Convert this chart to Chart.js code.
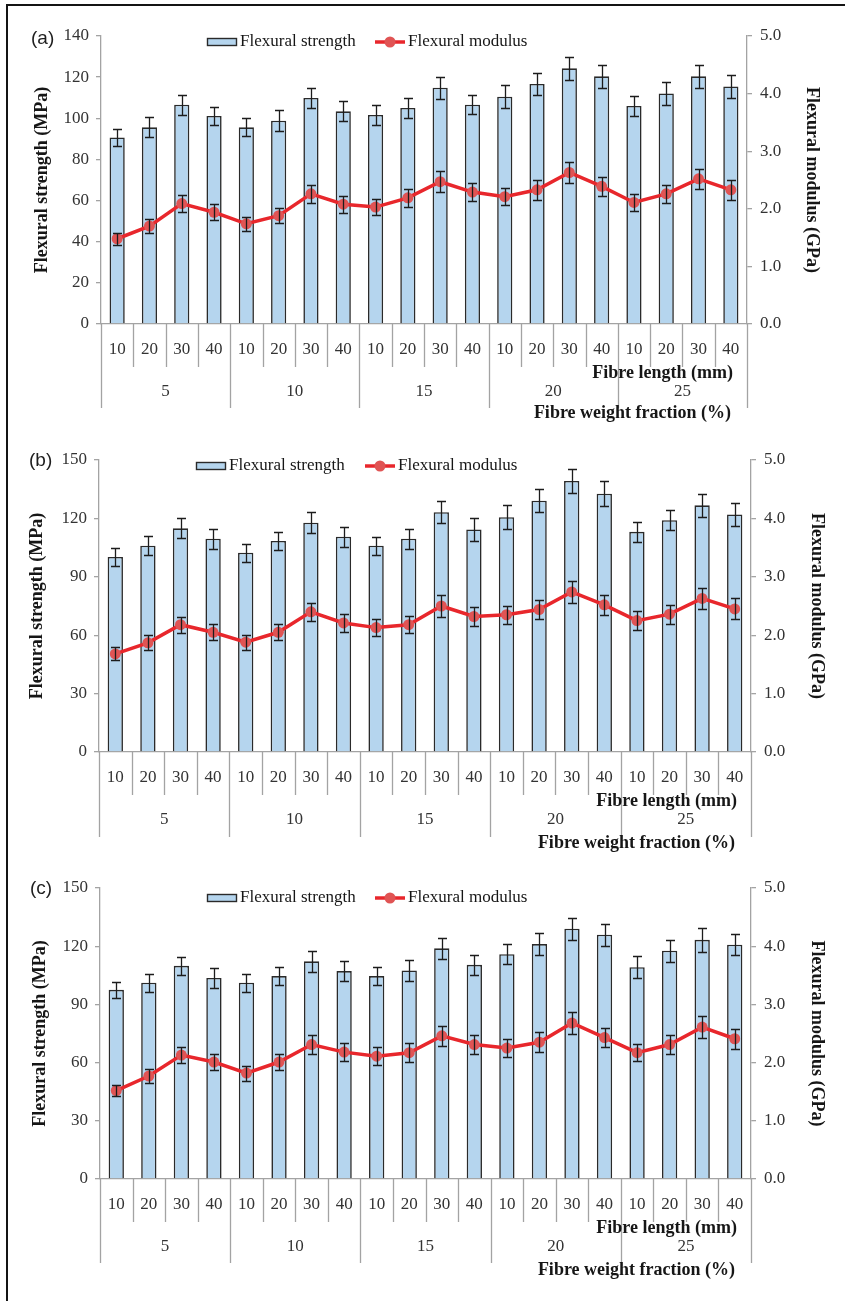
<!DOCTYPE html>
<html>
<head>
<meta charset="utf-8">
<title>Flexural strength and modulus vs fibre length and weight fraction</title>
<script src="https://cdn.jsdelivr.net/npm/chart.js@4.4.1/dist/chart.umd.min.js"></script>
<style>
  html, body { margin: 0; padding: 0; background: #fff; }
  #fig { position: relative; width: 845px; height: 1301px; overflow: hidden; background: #fff; }
  #frame { position: absolute; left: 6px; top: 4px; width: 860px; height: 1320px;
           border-left: 2px solid #141414; border-top: 2px solid #141414; }
  canvas { position: absolute; left: 0; }
</style>
</head>
<body>
<div id="fig">
  <div id="frame"></div>
  <canvas id="panelA" width="845" height="430" style="top:0px"></canvas>
  <canvas id="panelB" width="845" height="425" style="top:430px"></canvas>
  <canvas id="panelC" width="845" height="446" style="top:855px"></canvas>
</div>
<script>
// ---- categories ----
const weightFractions = ['5', '10', '15', '20', '25'];   // fibre weight fraction (%)
const fibreLengths = ['10', '20', '30', '40'];           // fibre length (mm)

// ---- panel (a) ----
const strengthA    = [90.7, 95.6, 106.6, 101.1,  95.6, 98.8, 109.9, 103.4,  101.6, 105.0, 114.9, 106.6,  110.5, 116.7, 124.3, 120.4,  106.0, 112.1, 120.4, 115.5];
const strengthErrA = [4.2, 4.9, 4.9, 4.4,  4.4, 5.0, 4.9, 4.9,  4.9, 4.9, 5.3, 4.7,  5.5, 5.5, 5.5, 5.5,  4.9, 5.5, 5.5, 5.5];
const modulusA     = [1.48, 1.70, 2.09, 1.94,  1.74, 1.88, 2.26, 2.08,  2.03, 2.19, 2.47, 2.29,  2.21, 2.33, 2.63, 2.39,  2.11, 2.26, 2.52, 2.33];
const modulusErrA  = [0.10, 0.12, 0.15, 0.14,  0.12, 0.13, 0.16, 0.15,  0.14, 0.16, 0.18, 0.16,  0.15, 0.17, 0.18, 0.17,  0.15, 0.16, 0.17, 0.17];

// ---- panel (b) ----
const strengthB    = [100.2, 106.0, 114.9, 109.6,  102.4, 108.4, 117.8, 110.6,  106.0, 109.6, 123.2, 114.3,  120.6, 129.1, 139.2, 132.7,  113.1, 119.1, 126.7, 122.0];
const strengthErrB = [4.6, 4.8, 5.1, 5.1,  4.6, 4.6, 5.3, 5.1,  4.6, 5.1, 5.7, 5.7,  6.2, 5.8, 6.2, 6.3,  5.3, 5.1, 5.8, 6.0];
const modulusB     = [1.68, 1.87, 2.18, 2.05,  1.88, 2.05, 2.40, 2.21,  2.13, 2.18, 2.50, 2.32,  2.35, 2.44, 2.74, 2.52,  2.25, 2.36, 2.63, 2.45];
const modulusErrB  = [0.11, 0.13, 0.14, 0.14,  0.13, 0.14, 0.15, 0.16,  0.15, 0.15, 0.18, 0.16,  0.15, 0.16, 0.19, 0.17,  0.16, 0.16, 0.18, 0.18];

// ---- panel (c) ----
const strengthC    = [97.5, 101.2, 109.9, 103.6,  101.2, 104.6, 112.2, 107.2,  104.6, 107.5, 118.9, 110.4,  115.9, 121.1, 129.0, 125.9,  109.2, 117.7, 123.3, 120.8];
const strengthErrC = [4.1, 4.6, 4.6, 5.2,  4.6, 4.6, 5.3, 5.0,  4.6, 5.2, 5.5, 5.3,  5.2, 5.8, 5.7, 5.8,  5.5, 5.7, 6.2, 5.5];
const modulusC     = [1.52, 1.77, 2.13, 2.01,  1.82, 2.01, 2.31, 2.18,  2.11, 2.17, 2.46, 2.31,  2.25, 2.35, 2.68, 2.43,  2.17, 2.31, 2.61, 2.41];
const modulusErrC  = [0.09, 0.12, 0.14, 0.14,  0.13, 0.14, 0.17, 0.15,  0.15, 0.16, 0.17, 0.16,  0.16, 0.17, 0.19, 0.17,  0.15, 0.17, 0.19, 0.17];

// ---- axis ranges / tick steps ----
const strengthMaxA = 140, strengthStepA = 20;
const strengthMaxBC = 150, strengthStepBC = 30;
const modulusMax = 5, modulusStep = 1;

// ---- labels ----
const seriesNames = ['Flexural strength', 'Flexural modulus'];
const axisTitles = {
  strength: 'Flexural strength (MPa)',
  modulus: 'Flexural modulus (GPa)',
  length: 'Fibre length (mm)',
  fraction: 'Fibre weight fraction (%)'
};

// category labels (inner level) and their group (outer level)
const categoryLabels = weightFractions.flatMap(() => fibreLengths.slice());
const categoryGroups = weightFractions.flatMap(w => fibreLengths.map(() => w));

// ---- styles ----
const SERIF = "'Liberation Serif', 'Times New Roman', serif";
const SANS = "'Liberation Sans', Arial, sans-serif";
const TICK_SIZE = 17;
const TITLE_SIZE = 18;
const BAR_FILL = '#b5d5ee';
const BAR_EDGE = '#2a2a2a';
const LINE_RED = '#e8272c';
const DOT_RED = '#e05454';
const AXIS_GREY = '#a3a3a3';
const TICK_TEXT = '#333333';
const TITLE_TEXT = '#161616';

// error bars for any dataset carrying an `errors` array
const errorBarPlugin = {
  id: 'errorBars',
  afterDatasetsDraw(chart) {
    const ctx = chart.ctx;
    chart.data.datasets.forEach((ds, di) => {
      if (!ds.errors) return;
      const meta = chart.getDatasetMeta(di);
      const scale = chart.scales[meta.yAxisID];
      ctx.save();
      ctx.strokeStyle = '#1c1c1c';
      ctx.lineWidth = 1.3;
      meta.data.forEach((el, i) => {
        const v = ds.data[i], e = ds.errors[i];
        const yHi = Math.round(scale.getPixelForValue(v + e)) + 0.5;
        const yLo = Math.round(scale.getPixelForValue(v - e)) + 0.5;
        const x = Math.round(el.x) + 0.5;
        const cap = 4.5;
        ctx.beginPath();
        ctx.moveTo(x, yHi); ctx.lineTo(x, yLo);
        ctx.moveTo(x - cap, yHi); ctx.lineTo(x + cap, yHi);
        ctx.moveTo(x - cap, yLo); ctx.lineTo(x + cap, yLo);
        ctx.stroke();
      });
      ctx.restore();
    });
  }
};

// two-level category axis: separators, group labels and the two axis captions
const groupAxisPlugin = {
  id: 'groupAxis',
  afterDraw(chart, args, o) {
    const ctx = chart.ctx;
    const xs = chart.scales.x;
    const area = chart.chartArea;
    const groups = o.groups;
    const n = groups.length;
    ctx.save();
    ctx.strokeStyle = AXIS_GREY;
    ctx.lineWidth = 1.3;
    for (let i = 0; i <= n; i++) {
      let bx;
      if (i === 0) bx = area.left;
      else if (i === n) bx = area.right;
      else bx = (xs.getPixelForValue(i - 1) + xs.getPixelForValue(i)) / 2;
      const isGroupEdge = i === 0 || i === n || groups[i] !== groups[i - 1];
      const drop = isGroupEdge ? o.groupDrop : o.tickDrop;
      bx = Math.round(bx) + 0.5;
      ctx.beginPath();
      ctx.moveTo(bx, area.bottom);
      ctx.lineTo(bx, area.bottom + drop);
      ctx.stroke();
    }
    // group labels
    ctx.fillStyle = TICK_TEXT;
    ctx.font = TICK_SIZE + 'px ' + SERIF;
    ctx.textAlign = 'center';
    ctx.textBaseline = 'middle';
    let start = 0;
    for (let i = 1; i <= n; i++) {
      if (i === n || groups[i] !== groups[start]) {
        const cx = (xs.getPixelForValue(start) + xs.getPixelForValue(i - 1)) / 2;
        ctx.fillText(groups[start], cx, area.bottom + o.groupLabelY);
        start = i;
      }
    }
    // captions
    ctx.fillStyle = TITLE_TEXT;
    ctx.font = 'bold ' + TITLE_SIZE + 'px ' + SERIF;
    ctx.textAlign = 'right';
    ctx.fillText(o.innerTitle, area.right - o.innerTitleInset, area.bottom + o.innerTitleY);
    ctx.fillText(o.outerTitle, area.right - o.outerTitleInset, area.bottom + o.outerTitleY);
    ctx.restore();
  }
};

// legend with a filled box for the bars and a line-with-dot for the line series
const pairLegendPlugin = {
  id: 'pairLegend',
  afterDraw(chart, args, o) {
    const ctx = chart.ctx;
    const [barDs, lineDs] = chart.data.datasets;
    const y = o.y;
    ctx.save();
    ctx.font = TICK_SIZE + 'px ' + SERIF;
    ctx.textBaseline = 'middle';
    ctx.textAlign = 'left';
    // bar swatch
    ctx.fillStyle = barDs.backgroundColor;
    ctx.fillRect(o.barX, y - 4, 30, 8);
    ctx.strokeStyle = barDs.borderColor;
    ctx.lineWidth = 1.4;
    ctx.strokeRect(o.barX + 0.5, y - 4 + 0.5, 29, 7);
    ctx.fillStyle = TITLE_TEXT;
    ctx.fillText(barDs.label, o.barX + 33, y);
    // line swatch
    ctx.strokeStyle = lineDs.borderColor;
    ctx.lineWidth = 3.5;
    ctx.beginPath();
    ctx.moveTo(o.lineX, y); ctx.lineTo(o.lineX + 30, y);
    ctx.stroke();
    ctx.fillStyle = lineDs.pointBackgroundColor;
    ctx.beginPath();
    ctx.arc(o.lineX + 15, y, 5.5, 0, Math.PI * 2);
    ctx.fill();
    ctx.fillStyle = TITLE_TEXT;
    ctx.fillText(lineDs.label, o.lineX + 33, y);
    ctx.restore();
  }
};

// panel letter
const panelTagPlugin = {
  id: 'panelTag',
  afterDraw(chart, args, o) {
    const ctx = chart.ctx;
    ctx.save();
    ctx.fillStyle = '#1e1e1e';
    ctx.font = '19px ' + SANS;
    ctx.textAlign = 'left';
    ctx.textBaseline = 'middle';
    ctx.fillText(o.text, o.x, o.y);
    ctx.restore();
  }
};

function makePanel(id, p) {
  const canvas = document.getElementById(id);
  const tickFont = { family: SERIF, size: TICK_SIZE };
  const titleFont = { family: SERIF, size: TITLE_SIZE, weight: 'bold' };
  return new Chart(canvas, {
    type: 'bar',
    data: {
      labels: categoryLabels,
      datasets: [
        {
          type: 'bar',
          label: seriesNames[0],
          data: p.strength,
          errors: p.strengthErr,
          yAxisID: 'y',
          backgroundColor: BAR_FILL,
          borderColor: BAR_EDGE,
          borderWidth: 1.6,
          barPercentage: 0.47,
          categoryPercentage: 1.0,
          order: 1
        },
        {
          type: 'line',
          label: seriesNames[1],
          data: p.modulus,
          errors: p.modulusErr,
          yAxisID: 'y1',
          borderColor: LINE_RED,
          borderWidth: 3.5,
          pointRadius: 5.5,
          pointBackgroundColor: DOT_RED,
          pointBorderWidth: 0,
          tension: 0,
          order: 0
        }
      ]
    },
    options: {
      responsive: false,
      animation: false,
      devicePixelRatio: 1,
      layout: { padding: { left: 0, right: 0, top: p.top, bottom: 0 } },
      plugins: {
        legend: { display: false },
        tooltip: { enabled: false },
        pairLegend: { y: p.legendY, barX: p.legendBarX, lineX: p.legendLineX },
        panelTag: { text: p.tag, x: p.tagX, y: p.tagY },
        groupAxis: {
          groups: categoryGroups,
          tickDrop: 43, groupDrop: p.groupDrop, groupLabelY: 68,
          innerTitle: axisTitles.length, innerTitleY: 49, innerTitleInset: 14,
          outerTitle: axisTitles.fraction, outerTitleY: p.outerTitleY, outerTitleInset: 16
        }
      },
      scales: {
        x: {
          type: 'category',
          offset: true,
          grid: { display: false, drawTicks: false },
          border: { display: true, color: AXIS_GREY, width: 1.3 },
          ticks: { padding: 15, color: TICK_TEXT, font: tickFont, autoSkip: false, maxRotation: 0 },
          afterFit(s) { s.height = p.xHeight; }
        },
        y: {
          position: 'left',
          min: 0, max: p.strengthMax,
          ticks: { stepSize: p.strengthStep, padding: 7, color: TICK_TEXT, font: tickFont },
          grid: { drawOnChartArea: false, tickLength: 5, color: AXIS_GREY, lineWidth: 1.3 },
          border: { color: AXIS_GREY, width: 1.3 },
          title: { display: true, text: axisTitles.strength, font: titleFont, color: TITLE_TEXT,
                   padding: { top: p.leftTitlePad, bottom: 0 } },
          afterFit(s) { s.width = p.left; }
        },
        y1: {
          position: 'right',
          min: 0, max: modulusMax,
          ticks: { stepSize: modulusStep, padding: 8, color: TICK_TEXT, font: tickFont,
                   callback: v => Number(v).toFixed(1) },
          grid: { drawOnChartArea: false, tickLength: 5, color: AXIS_GREY, lineWidth: 1.3 },
          border: { color: AXIS_GREY, width: 1.3 },
          title: { display: true, text: axisTitles.modulus, font: titleFont, color: TITLE_TEXT,
                   padding: { top: p.rightTitlePad, bottom: 0 } },
          afterFit(s) { s.width = 845 - p.right; }
        }
      }
    },
    plugins: [errorBarPlugin, groupAxisPlugin, pairLegendPlugin, panelTagPlugin]
  });
}

makePanel('panelA', {
  strength: strengthA, strengthErr: strengthErrA, modulus: modulusA, modulusErr: modulusErrA,
  strengthMax: strengthMaxA, strengthStep: strengthStepA,
  top: 36, xHeight: 106, left: 101, right: 747,
  leftTitlePad: 32, rightTitlePad: 23,
  legendY: 42, legendBarX: 207, legendLineX: 375,
  tag: '(a)', tagX: 31, tagY: 39,
  groupDrop: 84, outerTitleY: 89
});

makePanel('panelB', {
  strength: strengthB, strengthErr: strengthErrB, modulus: modulusB, modulusErr: modulusErrB,
  strengthMax: strengthMaxBC, strengthStep: strengthStepBC,
  top: 30, xHeight: 103, left: 99, right: 751,
  leftTitlePad: 27, rightTitlePad: 18,
  legendY: 36, legendBarX: 196, legendLineX: 365,
  tag: '(b)', tagX: 29, tagY: 31,
  groupDrop: 85, outerTitleY: 91
});

makePanel('panelC', {
  strength: strengthC, strengthErr: strengthErrC, modulus: modulusC, modulusErr: modulusErrC,
  strengthMax: strengthMaxBC, strengthStep: strengthStepBC,
  top: 33, xHeight: 122, left: 100, right: 751,
  leftTitlePad: 30, rightTitlePad: 18,
  legendY: 43, legendBarX: 207, legendLineX: 375,
  tag: '(c)', tagX: 30, tagY: 34,
  groupDrop: 84, outerTitleY: 91
});
</script>
</body>
</html>
